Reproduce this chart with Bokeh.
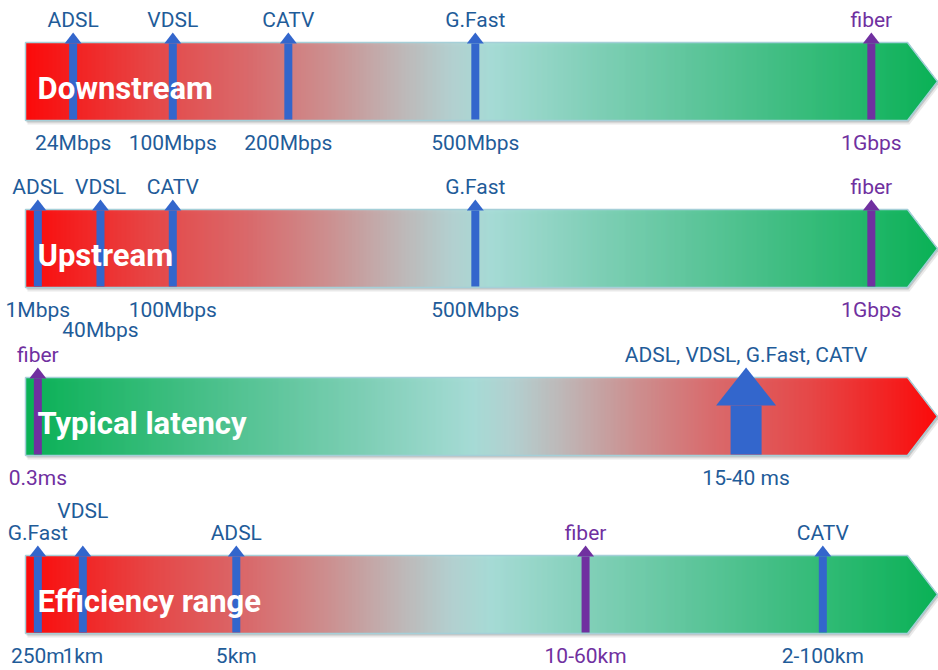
import numpy as np
from bokeh.plotting import figure
from bokeh.models import Range1d
from bokeh.core.properties import value
from bokeh.embed import file_html
from bokeh.resources import INLINE

# ---------------- data ----------------
band_names = ["Downstream", "Upstream", "Typical latency", "Efficiency range"]

down_tech = ["ADSL", "VDSL", "CATV", "G.Fast", "fiber"]
down_pos = [0.054, 0.167, 0.298, 0.510, 0.959]
down_vals = ["24Mbps", "100Mbps", "200Mbps", "500Mbps", "1Gbps"]

up_tech = ["ADSL", "VDSL", "CATV", "G.Fast", "fiber"]
up_pos = [0.014, 0.085, 0.167, 0.510, 0.959]
up_vals = ["1Mbps", "40Mbps", "100Mbps", "500Mbps", "1Gbps"]

lat_tech = ["fiber", "ADSL, VDSL, G.Fast, CATV"]
lat_pos = [0.014, 0.817]
lat_vals = ["0.3ms", "15-40 ms"]

range_tech = ["G.Fast", "VDSL", "ADSL", "fiber", "CATV"]
range_pos = [0.014, 0.065, 0.239, 0.635, 0.904]
range_vals = ["250m", "1km", "5km", "10-60km", "2-100km"]

# ---------------- layout / style ----------------
W, H = 938, 670
BAR_L, BAR_R = 25, 907          # pixels where scale 0 and 1 fall
PXU = 1.0 / (BAR_R - BAR_L)     # one pixel in scale units
HEAD_START_PX, TIP_PX = 907, 937
BAND_TOPS = [42, 209, 377, 555]
BAND_H = 78
BLUE_MARK = "#3366CC"
BLUE_TEXT = "#1F5C99"
PURPLE = "#7030A0"
FONT = value("Roboto")
TEXT_SHIFT = -9

bands = [
    dict(tech=down_tech, pos=down_pos, vals=down_vals, top_row=[0] * 5, bot_row=[0] * 5, big=[False] * 5, rev=False),
    dict(tech=up_tech, pos=up_pos, vals=up_vals, top_row=[0] * 5, bot_row=[0, 1, 0, 0, 0], big=[False] * 5, rev=False),
    dict(tech=lat_tech, pos=lat_pos, vals=lat_vals, top_row=[0, 0], bot_row=[0, 0], big=[False, True], rev=True),
    dict(tech=range_tech, pos=range_pos, vals=range_vals, top_row=[0, 1, 0, 0, 0], bot_row=[0] * 5, big=[False] * 5, rev=False),
]

# gradient stops (px along bar -> colour)
stop_px = [25, 60, 150, 250, 330, 400, 450, 490, 600, 750, 937]
stop_col = ["#FF0000", "#F81212", "#E84040", "#DA6668", "#CC8E8E", "#BEB6B6",
            "#B2D0D0", "#A4DCD6", "#7ACFB4", "#44C088", "#00B050"]
stop_rgb = np.array([[int(c[i:i + 2], 16) for i in (1, 3, 5)] for c in stop_col], dtype=float)


def grad_color(px):
    r = np.interp(px, stop_px, stop_rgb[:, 0])
    g = np.interp(px, stop_px, stop_rgb[:, 1])
    b = np.interp(px, stop_px, stop_rgb[:, 2])
    return "#%02x%02x%02x" % (int(round(r)), int(round(g)), int(round(b)))


def fx(px):
    return (px - BAR_L) * PXU


x_start = fx(0)
p = figure(width=W, height=H, x_range=Range1d(x_start, x_start + W * PXU),
           y_range=Range1d(H, 0), output_backend="svg", toolbar_location=None,
           min_border=0, x_axis_type=None, y_axis_type=None)
p.outline_line_color = None
p.grid.visible = False
p.background_fill_color = "white"
p.border_fill_color = "white"

for bi, (name, band) in enumerate(zip(band_names, bands)):
    top = BAND_TOPS[bi]
    bot = top + BAND_H
    mid = (top + bot) / 2.0

    poly_x = [fx(BAR_L), fx(HEAD_START_PX), fx(TIP_PX), fx(HEAD_START_PX), fx(BAR_L)]
    poly_y = [top, top, mid, bot, bot]

    # shadow
    for dx, dy, a in [(1, 2, 0.25), (2, 4, 0.14)]:
        p.patch([x + dx * PXU for x in poly_x], [y + dy for y in poly_y],
                fill_color="#606060", fill_alpha=a, line_color=None)

    # gradient fill as thin slices
    lefts, rights, tops, bots, cols = [], [], [], [], []
    for px in range(BAR_L, TIP_PX):
        if px < HEAD_START_PX:
            half = BAND_H / 2.0
        else:
            half = BAND_H / 2.0 * (TIP_PX - (px + 0.5)) / (TIP_PX - HEAD_START_PX)
        lefts.append(fx(px))
        rights.append(fx(px + 1.4))
        tops.append(mid - half)
        bots.append(mid + half)
        cp = (BAR_L + 937 - px) if band["rev"] else px
        cols.append(grad_color(cp))
    p.quad(left=lefts, right=rights, top=tops, bottom=bots, fill_color=cols, line_color=None)

    # outline
    p.patch(poly_x + [poly_x[0]], poly_y + [poly_y[0]], fill_color=None,
            line_color="#A5CFD8", line_width=1.5)

    # markers
    for tech, pos, val, trow, brow, big in zip(band["tech"], band["pos"], band["vals"],
                                               band["top_row"], band["bot_row"], band["big"]):
        is_fiber = tech == "fiber"
        mcol = PURPLE if is_fiber else BLUE_MARK
        tcol = PURPLE if is_fiber else BLUE_TEXT
        if big:
            hw_head, hw_shaft, head_base = 30, 15.5, top + 28
        else:
            hw_head, hw_shaft, head_base = 8.5, 4, top + 1
        p.quad(left=[pos - hw_shaft * PXU], right=[pos + hw_shaft * PXU],
               top=[head_base], bottom=[bot - 1], fill_color=mcol, line_color=None)
        p.patch([pos - hw_head * PXU, pos + hw_head * PXU, pos],
                [head_base, head_base, top - 10], fill_color=mcol, line_color=None)
        p.text(x=[pos], y=[top - 13.5 - 22 * trow + TEXT_SHIFT], text=[tech], text_color=tcol,
               text_font=FONT, text_font_size="21px", text_align="center",
               text_baseline="alphabetic")
        p.text(x=[pos], y=[bot + 31 + 20 * brow + TEXT_SHIFT], text=[val], text_color=tcol,
               text_font=FONT, text_font_size="21px", text_align="center",
               text_baseline="alphabetic")

    # band title (drawn over the markers)
    p.text(x=[fx(BAR_L + 12)], y=[mid + 16 + TEXT_SHIFT], text=[name], text_color="white",
           text_font=FONT, text_font_style="bold", text_font_size="31px",
           text_baseline="alphabetic", text_align="left")

open("out.html", "w").write(file_html(p, INLINE))
